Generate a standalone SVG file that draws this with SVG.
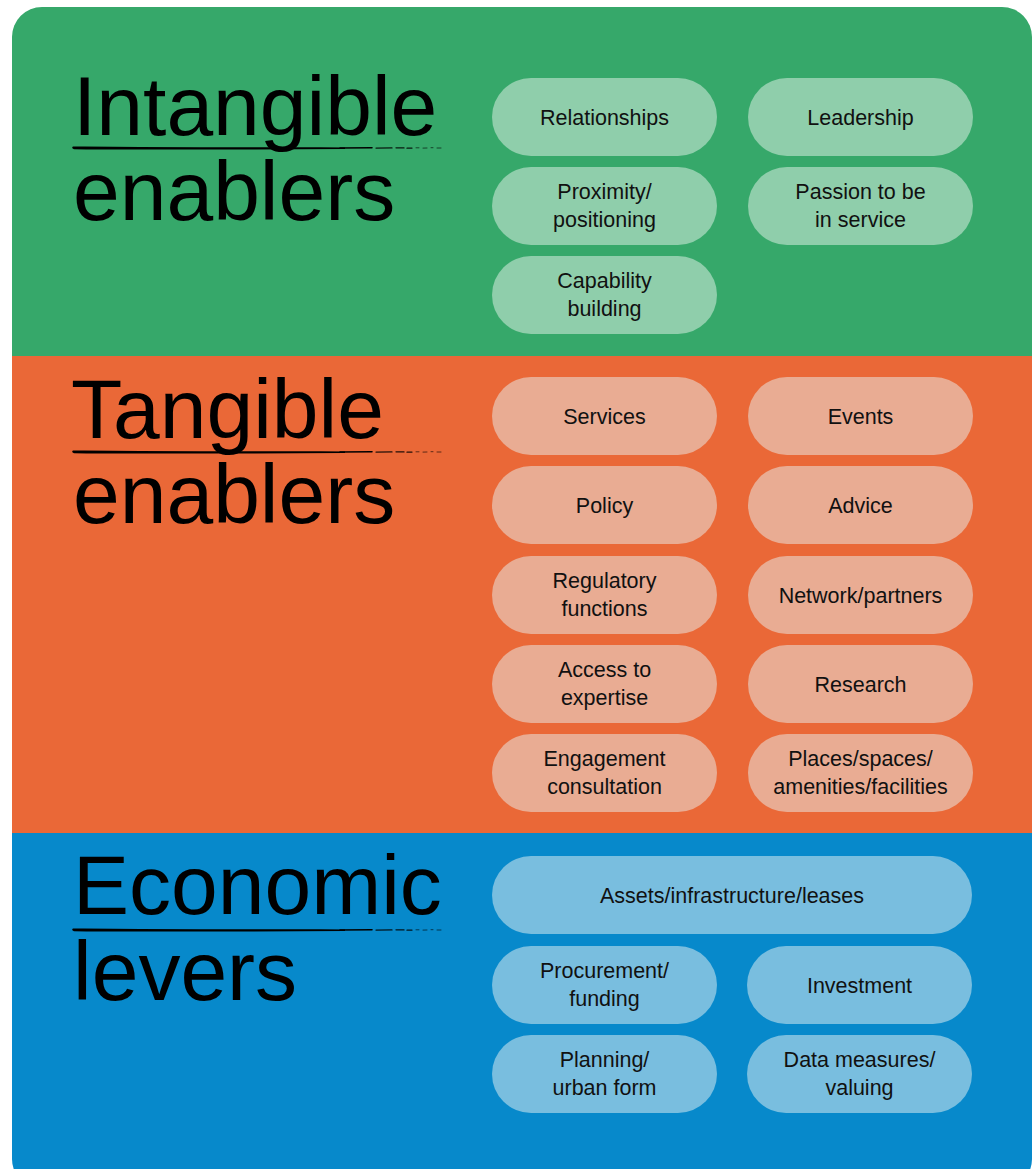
<svg xmlns="http://www.w3.org/2000/svg" width="1032" height="1169" viewBox="0 0 1032 1169">
  <defs>
    <clipPath id="outer">
      <rect x="12" y="7" width="1020" height="1182" rx="30" ry="30"/>
    </clipPath>
    <style>
      .title { font-family: "Liberation Sans", Arial, sans-serif; font-size: 84px; fill: #000; }
      .lbl { font-family: "Liberation Sans", Arial, sans-serif; font-size: 21.5px; fill: #111; text-anchor: middle; }
      .pg { fill: #8FCEAB; }
      .po { fill: #E9AC93; }
      .pb { fill: #79BEDF; }
      .brush { fill: none; stroke: #000; stroke-linecap: round; }
    </style>
    <g id="underline">
      <path d="M73,146.6 Q76,146.2 140,146.9 Q240,147.3 320,147.2 L345,147.6 L345,149 Q250,149.6 150,149.5 Q90,149.6 74,149.3 Q71,148 73,146.6 Z" fill="#000"/>
      <path d="M340,148 L372,147.8" class="brush" stroke-width="1.6"/>
      <path d="M376,148.1 L392,147.9 M396,147.8 L404,147.9 M407,148.2 L412,148.1" class="brush" stroke-width="1.3" opacity="0.85"/>
      <path d="M416,147.8 L419,147.8 M423,148.1 L427,148 M431,147.7 L433,147.7 M437,148 L441,148" class="brush" stroke-width="1" opacity="0.6"/>
    </g>
  </defs>

  <rect width="1032" height="1169" fill="#FFFFFF"/>

  <g clip-path="url(#outer)">
    <rect id="band-intangible" x="0" y="0" width="1032" height="356" fill="#36A86A"/>
    <rect id="band-tangible" x="0" y="356" width="1032" height="477" fill="#EA6837"/>
    <rect id="band-economic" x="0" y="833" width="1032" height="360" fill="#0789CB"/>
  </g>

  <g id="title-intangible">
    <text class="title" x="73" y="135">Intangible</text>
    <use href="#underline"/>
    <text class="title" x="73" y="220">enablers</text>
  </g>
  <g id="title-tangible">
    <text class="title" x="71" y="438">Tangible</text>
    <use href="#underline" transform="translate(0,304)"/>
    <text class="title" x="73" y="523">enablers</text>
  </g>
  <g id="title-economic">
    <text class="title" x="73" y="914">Economic</text>
    <use href="#underline" transform="translate(0,782)"/>
    <text class="title" x="73" y="1000">levers</text>
  </g>

  <g id="connectors"></g>

  <!-- Intangible enablers -->
  <g id="relationships"><rect class="pg" x="492" y="78" width="225" height="78" rx="39"/><text class="lbl" x="604.5" y="124.5">Relationships</text></g>
  <g id="leadership"><rect class="pg" x="748" y="78" width="225" height="78" rx="39"/><text class="lbl" x="860.5" y="124.5">Leadership</text></g>
  <g id="proximity"><rect class="pg" x="492" y="167" width="225" height="78" rx="39"/><text class="lbl" x="604.5" y="199">Proximity/</text><text class="lbl" x="604.5" y="227">positioning</text></g>
  <g id="passion"><rect class="pg" x="748" y="167" width="225" height="78" rx="39"/><text class="lbl" x="860.5" y="199">Passion to be</text><text class="lbl" x="860.5" y="227">in service</text></g>
  <g id="capability"><rect class="pg" x="492" y="256" width="225" height="78" rx="39"/><text class="lbl" x="604.5" y="288">Capability</text><text class="lbl" x="604.5" y="316">building</text></g>

  <!-- Tangible enablers -->
  <g id="services"><rect class="po" x="492" y="377" width="225" height="78" rx="39"/><text class="lbl" x="604.5" y="423.5">Services</text></g>
  <g id="events"><rect class="po" x="748" y="377" width="225" height="78" rx="39"/><text class="lbl" x="860.5" y="423.5">Events</text></g>
  <g id="policy"><rect class="po" x="492" y="466" width="225" height="78" rx="39"/><text class="lbl" x="604.5" y="512.5">Policy</text></g>
  <g id="advice"><rect class="po" x="748" y="466" width="225" height="78" rx="39"/><text class="lbl" x="860.5" y="512.5">Advice</text></g>
  <g id="regulatory"><rect class="po" x="492" y="556" width="225" height="78" rx="39"/><text class="lbl" x="604.5" y="588">Regulatory</text><text class="lbl" x="604.5" y="616">functions</text></g>
  <g id="network"><rect class="po" x="748" y="556" width="225" height="78" rx="39"/><text class="lbl" x="860.5" y="602.5">Network/partners</text></g>
  <g id="access"><rect class="po" x="492" y="645" width="225" height="78" rx="39"/><text class="lbl" x="604.5" y="677">Access to</text><text class="lbl" x="604.5" y="705">expertise</text></g>
  <g id="research"><rect class="po" x="748" y="645" width="225" height="78" rx="39"/><text class="lbl" x="860.5" y="691.5">Research</text></g>
  <g id="engagement"><rect class="po" x="492" y="734" width="225" height="78" rx="39"/><text class="lbl" x="604.5" y="766">Engagement</text><text class="lbl" x="604.5" y="794">consultation</text></g>
  <g id="places"><rect class="po" x="748" y="734" width="225" height="78" rx="39"/><text class="lbl" x="860.5" y="766">Places/spaces/</text><text class="lbl" x="860.5" y="794">amenities/facilities</text></g>

  <!-- Economic levers -->
  <g id="assets"><rect class="pb" x="492" y="856" width="480" height="78" rx="39"/><text class="lbl" x="732" y="902.5">Assets/infrastructure/leases</text></g>
  <g id="procurement"><rect class="pb" x="492" y="946" width="225" height="78" rx="39"/><text class="lbl" x="604.5" y="978">Procurement/</text><text class="lbl" x="604.5" y="1006">funding</text></g>
  <g id="investment"><rect class="pb" x="747" y="946" width="225" height="78" rx="39"/><text class="lbl" x="859.5" y="992.5">Investment</text></g>
  <g id="planning"><rect class="pb" x="492" y="1035" width="225" height="78" rx="39"/><text class="lbl" x="604.5" y="1067">Planning/</text><text class="lbl" x="604.5" y="1095">urban form</text></g>
  <g id="data"><rect class="pb" x="747" y="1035" width="225" height="78" rx="39"/><text class="lbl" x="859.5" y="1067">Data measures/</text><text class="lbl" x="859.5" y="1095">valuing</text></g>
</svg>
